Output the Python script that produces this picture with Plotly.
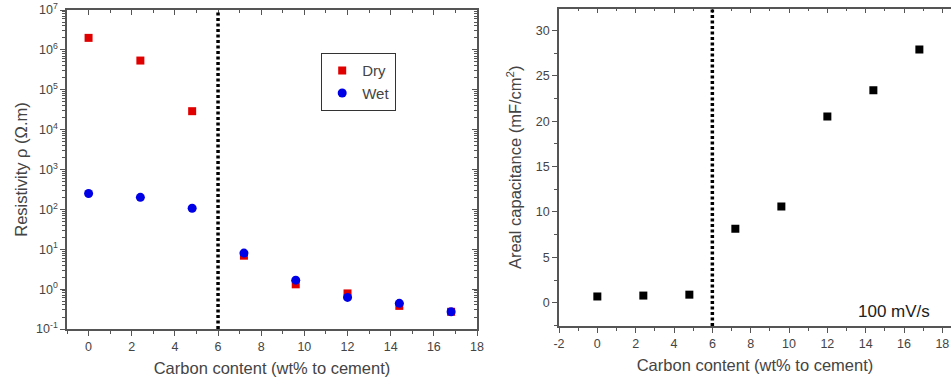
import plotly.graph_objects as go

# ---- data ----
carbon = [0, 2.4, 4.8, 7.2, 9.6, 12, 14.4, 16.8]
dry_resistivity = [2.0e6, 5.4e5, 2.9e4, 6.9, 1.32, 0.78, 0.38, 0.27]
wet_resistivity = [250, 200, 107, 8.0, 1.68, 0.62, 0.44, 0.27]
areal_capacitance = [0.7, 0.8, 0.9, 8.15, 10.6, 20.5, 23.4, 27.9]
percolation = 6
scan_rate_label = "100 mV/s"

log_exponents = [-1, 0, 1, 2, 3, 4, 5, 6, 7]
log_tickvals = [10.0 ** e for e in log_exponents]
log_ticktext = ["10<sup>%d</sup>" % e for e in log_exponents]
log_minor = [m * 10.0 ** e for e in log_exponents[:-1] for m in range(2, 10)]

x2_tickvals = [-2, 0, 2, 4, 6, 8, 10, 12, 14, 16, 18]
x2_ticktext = [str(v) for v in x2_tickvals]

FONT = "Liberation Sans, Arial, sans-serif"
AX = "#555555"
TXT = "#444444"
TITLE = 16.5

fig = go.Figure()

fig.add_trace(go.Scatter(x=carbon, y=dry_resistivity, mode="markers", name="Dry",
                         marker=dict(symbol="square", size=8, color="#e00000"),
                         xaxis="x", yaxis="y"))
fig.add_trace(go.Scatter(x=carbon, y=wet_resistivity, mode="markers", name="Wet",
                         marker=dict(symbol="circle", size=9, color="#0000e6"),
                         xaxis="x", yaxis="y"))
fig.add_trace(go.Scatter(x=carbon, y=areal_capacitance, mode="markers", showlegend=False,
                         marker=dict(symbol="square", size=8, color="#000000"),
                         xaxis="x2", yaxis="y2"))

xl = [67 / 951, 477 / 951]
xr = [559 / 951, 1.0]
yl = [1 - 329 / 383, 1 - 10 / 383]
yr = [1 - 326 / 383, 1 - 8.5 / 383]

common = dict(showline=True, linecolor=AX, linewidth=1.5, showgrid=False, zeroline=False,
              ticks="outside", ticklen=5, tickcolor=AX, tickwidth=1.2, automargin=False,
              tickfont=dict(family=FONT, size=12.5, color=TXT))
overlay = dict(showline=True, linecolor=AX, linewidth=1.5, ticks="inside", ticklen=5,
               tickcolor=AX, showticklabels=False, showgrid=False, zeroline=False,
               automargin=False)

fig.update_layout(
    width=951, height=383,
    margin=dict(l=0, r=0, t=0, b=0, autoexpand=False),
    paper_bgcolor="white", plot_bgcolor="white",
    font=dict(family=FONT, color=TXT),
    xaxis=dict(domain=xl, range=[-1, 18], dtick=2, tick0=0, anchor="y",
               minor=dict(ticks="outside", ticklen=3, dtick=1, tickcolor=AX),
               title=dict(text="Carbon content (wt% to cement)", font=dict(size=TITLE, color=TXT), standoff=10),
               **common),
    yaxis=dict(domain=yl, type="log", range=[-1, 7], tickmode="array", tickvals=log_tickvals,
               ticktext=log_ticktext, anchor="x",
               minor=dict(ticks="outside", ticklen=3, tickvals=log_minor, tickcolor=AX),
               title=dict(text="Resistivity ρ (Ω.m)", font=dict(size=TITLE, color=TXT), standoff=4),
               **common),
    xaxis3=dict(domain=xl, range=[-1, 18], dtick=2, tick0=0, overlaying="x", side="top",
                anchor="y", minor=dict(ticks="inside", ticklen=3, dtick=1, tickcolor=AX), **overlay),
    yaxis3=dict(domain=yl, type="log", range=[-1, 7], tickmode="array", tickvals=log_tickvals,
                overlaying="y", side="right", anchor="x",
                minor=dict(ticks="inside", ticklen=3, tickvals=log_minor, tickcolor=AX), **overlay),
    xaxis2=dict(domain=xr, range=[-2, 18.45], tickmode="array", tickvals=x2_tickvals,
                ticktext=x2_ticktext, anchor="y2",
                minor=dict(ticks="outside", ticklen=3, dtick=1, tick0=0, tickcolor=AX),
                title=dict(text="Carbon content (wt% to cement)", font=dict(size=TITLE, color=TXT), standoff=10),
                **common),
    yaxis2=dict(domain=yr, range=[-2.55, 32.4], dtick=5, tick0=0, anchor="x2",
                minor=dict(ticks="outside", ticklen=3, dtick=2.5, tickcolor=AX),
                title=dict(text="Areal capacitance (mF/cm<sup>2</sup>)", font=dict(size=TITLE, color=TXT), standoff=10),
                **common),
    xaxis4=dict(domain=xr, range=[-2, 18.45], dtick=2, tick0=0, overlaying="x2", side="top",
                anchor="y2", minor=dict(ticks="inside", ticklen=3, dtick=1, tickcolor=AX), **overlay),
    legend=dict(x=321 / 951, y=1 - 53 / 383, xanchor="left", yanchor="top",
                bordercolor="#333333", borderwidth=1.2, bgcolor="white",
                font=dict(family=FONT, size=15, color=TXT), itemwidth=30,
                tracegroupgap=0),
    showlegend=True,
)

# dummy traces so overlay axes render
fig.add_trace(go.Scatter(x=[None], y=[None], xaxis="x3", yaxis="y3", showlegend=False, hoverinfo="skip"))
fig.add_trace(go.Scatter(x=[None], y=[None], xaxis="x4", yaxis="y2", showlegend=False, hoverinfo="skip"))

for xref, yref in (("x", "y domain"), ("x2", "y2 domain")):
    fig.add_shape(type="line", xref=xref, yref=yref, x0=percolation, x1=percolation, y0=0, y1=1,
                  line=dict(color="black", width=3.5, dash="3px,2.5px"))

fig.add_annotation(x=0.98, y=1 - 311 / 383, xref="paper", yref="paper", text=scan_rate_label,
                   showarrow=False, xanchor="right", yanchor="middle",
                   font=dict(family=FONT, size=17, color="#222222"))

fig.write_html("out.html")
